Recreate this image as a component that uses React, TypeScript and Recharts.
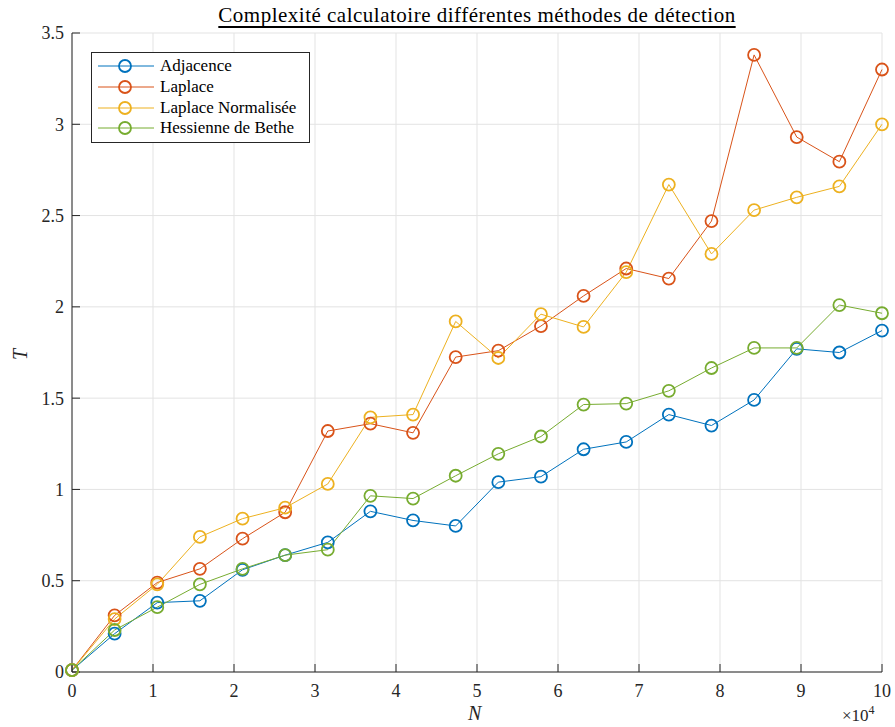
import {
  CartesianGrid,
  Legend,
  Line,
  LineChart,
  XAxis,
  YAxis,
} from "recharts";

// graph sizes N (20 runs from 0 to 1e5)
const sizes = [
  0, 5263, 10526, 15789, 21053, 26316, 31579, 36842, 42105, 47368, 52632,
  57895, 63158, 68421, 73684, 78947, 84211, 89474, 94737, 100000,
];

// computation time T for each method
const adjacence = [
  0.01, 0.21, 0.38, 0.39, 0.56, 0.64, 0.71, 0.88, 0.83, 0.8, 1.04, 1.07, 1.22,
  1.26, 1.41, 1.35, 1.49, 1.77, 1.75, 1.87,
];
const laplace = [
  0.01, 0.31, 0.49, 0.565, 0.73, 0.875, 1.32, 1.36, 1.31, 1.725, 1.76, 1.895,
  2.06, 2.21, 2.155, 2.47, 3.38, 2.93, 2.795, 3.3,
];
const laplaceNorm = [
  0.01, 0.29, 0.48, 0.74, 0.84, 0.9, 1.03, 1.395, 1.41, 1.92, 1.72, 1.96, 1.89,
  2.19, 2.67, 2.29, 2.53, 2.6, 2.66, 3.0,
];
const bethe = [
  0.01, 0.23, 0.355, 0.48, 0.565, 0.64, 0.67, 0.965, 0.95, 1.075, 1.195, 1.29,
  1.465, 1.47, 1.54, 1.665, 1.775, 1.775, 2.01, 1.965,
];

const xTicks = [0, 10000, 20000, 30000, 40000, 50000, 60000, 70000, 80000, 90000, 100000];
const yTicks = [0, 0.5, 1, 1.5, 2, 2.5, 3, 3.5];

const series = [
  { key: "adj", label: "Adjacence", color: "#0072BD", values: adjacence },
  { key: "lap", label: "Laplace", color: "#D95319", values: laplace },
  { key: "lapn", label: "Laplace Normalisée", color: "#EDB120", values: laplaceNorm },
  { key: "bethe", label: "Hessienne de Bethe", color: "#77AC30", values: bethe },
];

const rows = sizes.map((n, i) => {
  const row: Record<string, number> = { n };
  series.forEach((s) => {
    row[s.key] = s.values[i];
  });
  return row;
});

const FONT = '"Liberation Serif", "DejaVu Serif", serif';
const AXIS = "#262626";
const tickStyle = { fill: AXIS, fontSize: 18, fontFamily: FONT };

function LegendBox() {
  return (
    <div
      style={{
        border: `1px solid ${AXIS}`,
        background: "#fff",
        padding: "3px 8px 3px 6px",
        width: 203,
        fontFamily: FONT,
        fontSize: 17,
        color: "#000",
      }}
    >
      {series.map((s) => (
        <div
          key={s.key}
          style={{ display: "flex", alignItems: "center", height: 20.7 }}
        >
          <svg width={56} height={16} style={{ marginRight: 6 }}>
            <line x1={0} x2={56} y1={8} y2={8} stroke={s.color} strokeWidth={1} />
            <circle cx={27} cy={8} r={6} fill="none" stroke={s.color} strokeWidth={1.8} />
          </svg>
          <span style={{ whiteSpace: "nowrap" }}>{s.label}</span>
        </div>
      ))}
    </div>
  );
}

export default function App() {
  return (
    <div
      style={{
        position: "absolute",
        left: 0,
        top: 0,
        width: 895,
        height: 727,
        background: "#fff",
      }}
    >
      <div
        style={{
          position: "absolute",
          left: 0,
          width: 954,
          top: 3,
          textAlign: "center",
          fontFamily: FONT,
          fontSize: 21,
          letterSpacing: 0.5,
          color: "#000",
          textDecoration: "underline",
          textUnderlineOffset: 4,
        }}
      >
        Complexité calculatoire différentes méthodes de détection
      </div>
      <LineChart
        width={895}
        height={727}
        data={rows}
        margin={{ top: 33, right: 13, bottom: 0, left: 0 }}
      >
        <CartesianGrid stroke="#e3e3e3" strokeWidth={1} />
        <XAxis
          dataKey="n"
          type="number"
          domain={[0, 100000]}
          ticks={xTicks}
          height={55}
          tickFormatter={(v) => String(v / 10000)}
          tick={tickStyle}
          tickSize={-8}
          tickMargin={20}
          axisLine={{ stroke: AXIS }}
          tickLine={{ stroke: AXIS }}
        />
        <XAxis
          xAxisId="top"
          dataKey="n"
          type="number"
          orientation="top"
          domain={[0, 100000]}
          ticks={xTicks}
          height={0}
          tick={false}
          tickSize={-8}
          axisLine={{ stroke: AXIS }}
          tickLine={{ stroke: AXIS }}
        />
        <YAxis
          type="number"
          domain={[0, 3.5]}
          ticks={yTicks}
          width={72}
          tick={tickStyle}
          tickSize={-8}
          tickMargin={16}
          axisLine={{ stroke: AXIS }}
          tickLine={{ stroke: AXIS }}
        />
        <YAxis
          yAxisId="right"
          orientation="right"
          type="number"
          domain={[0, 3.5]}
          ticks={yTicks}
          width={0}
          tick={false}
          tickSize={-8}
          axisLine={{ stroke: AXIS }}
          tickLine={{ stroke: AXIS }}
        />
        <Legend
          layout="vertical"
          align="center"
          verticalAlign="middle"
          wrapperStyle={{ left: 91, top: 52, width: "auto" }}
          content={() => <LegendBox />}
        />
        {series.map((s) => (
          <Line
            key={s.key}
            type="linear"
            dataKey={s.key}
            name={s.label}
            stroke={s.color}
            strokeWidth={1}
            dot={{ r: 6, fill: "none", stroke: s.color, strokeWidth: 1.8 }}
            isAnimationActive={false}
          />
        ))}
      </LineChart>
      <div
        style={{
          position: "absolute",
          left: 468,
          top: 702,
          fontFamily: FONT,
          fontStyle: "italic",
          fontSize: 20,
          color: AXIS,
        }}
      >
        N
      </div>
      <div
        style={{
          position: "absolute",
          left: 15,
          top: 343,
          fontFamily: FONT,
          fontStyle: "italic",
          fontSize: 20,
          color: AXIS,
          transform: "rotate(-90deg)",
        }}
      >
        T
      </div>
      <div
        style={{
          position: "absolute",
          left: 842,
          top: 703,
          fontFamily: FONT,
          fontSize: 17,
          color: AXIS,
        }}
      >
        ×10<sup style={{ fontSize: 12 }}>4</sup>
      </div>
    </div>
  );
}
